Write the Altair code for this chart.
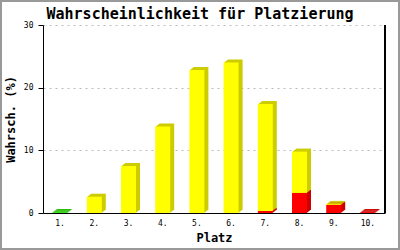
import altair as alt
import pandas as pd

platz = ["1.", "2.", "3.", "4.", "5.", "6.", "7.", "8.", "9.", "10."]
rot = [0, 0, 0, 0, 0, 0, 0.3, 3.2, 1.3, 0.15]
gelb = [0, 2.6, 7.5, 13.8, 22.8, 24.0, 17.1, 6.6, 0.15, 0]
gruen = [0.15, 0, 0, 0, 0, 0, 0, 0, 0, 0]

serien = [("rot", rot, 1, "#ff0000", "#cc0000"),
          ("gelb", gelb, 2, "#ffff00", "#cccc00"),
          ("gruen", gruen, 3, "#33dd11", "#22bb00")]

rows = []
for name, vals, rank, front, dark in serien:
    for p, v in zip(platz, vals):
        rows.append({"platz": p, "wert": v, "serie": name, "rang": rank,
                     "front": front, "dark": dark})
df = pd.DataFrame(rows)

FONT = "DejaVu Sans Mono"

x_enc = alt.X("platz:N", sort=platz, title="Platz",
              scale=alt.Scale(paddingInner=0, paddingOuter=0),
              axis=alt.Axis(labelAngle=0, ticks=False, labelPadding=6,
                            labelFontSize=8, titleFontSize=12, titleFontWeight="bold",
                            titlePadding=5, domainColor="black", grid=False))
y_enc = alt.Y("wert:Q", stack="zero", title="Wahrsch. (%)",
              scale=alt.Scale(domain=[0, 30], nice=False),
              axis=alt.Axis(values=[0, 10, 20, 30], tickSize=5, tickColor="black",
                            labelPadding=5, labelFontSize=8, titleFontSize=12,
                            titleFontWeight="bold", titlePadding=6,
                            domainColor="black", gridColor="#bbbbbb",
                            gridDash=[2, 4], format="d"))

layers = []
for k in [4, 3, 2, 1]:
    dy = -0.75 * k
    layers.append(
        alt.Chart(df).mark_bar(size=15, xOffset=k, x2Offset=k, yOffset=dy, y2Offset=dy)
        .encode(x=x_enc, y=y_enc, color=alt.Color("dark:N", scale=None),
                detail="serie:N", order=alt.Order("rang:Q"))
    )
layers.append(
    alt.Chart(df).mark_bar(size=15)
    .encode(x=x_enc, y=y_enc, color=alt.Color("front:N", scale=None),
            detail="serie:N", order=alt.Order("rang:Q"))
)

right_line = alt.Chart(df).mark_rule(color="black", strokeWidth=1).encode(
    x=alt.value(342), y=alt.value(0), y2=alt.value(188))
frame = alt.Chart(df).mark_rect(fill=None, stroke="#999999", strokeWidth=2).encode(
    x=alt.value(-42), x2=alt.value(356), y=alt.value(-24), y2=alt.value(224))

chart = alt.layer(*layers, right_line, frame).properties(
    width=342, height=188,
    title=alt.TitleParams("Wahrscheinlichkeit für Platzierung", fontSize=15,
                          font=FONT, fontWeight="bold", anchor="middle", dx=-14,
                          offset=4, baseline="alphabetic", dy=38, color="black"),
    padding={"left": 43, "top": 25, "right": 15, "bottom": 37},
    autosize=alt.AutoSizeParams(type="none"),
).configure(font=FONT).configure_view(stroke=None).configure_axis(
    labelFont=FONT, titleFont=FONT, labelColor="black", titleColor="black")

chart.save("out.html", embed_options={"renderer": "svg", "actions": False})
